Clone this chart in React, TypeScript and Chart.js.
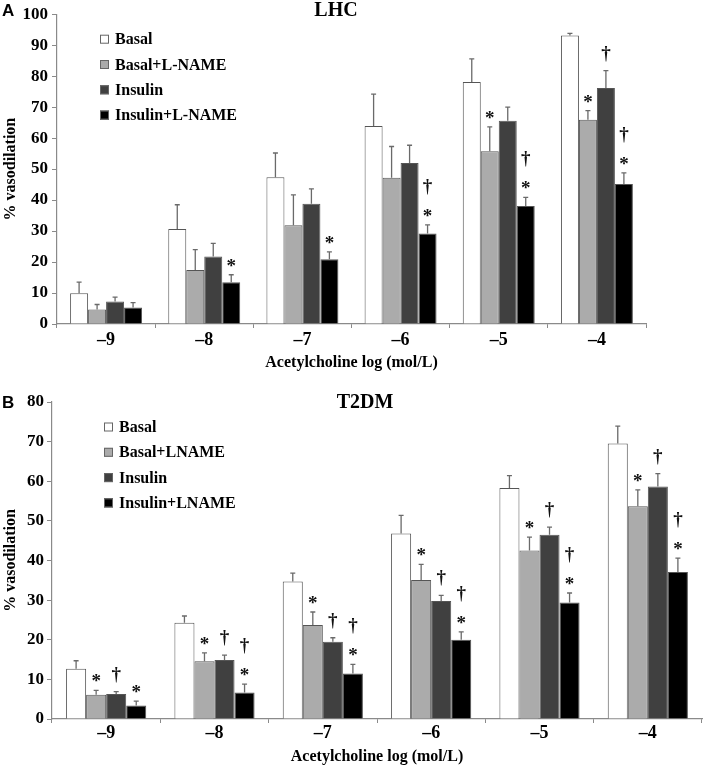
import { useEffect, useRef } from "react";
import { Chart, registerables } from "chart.js";

Chart.register(...registerables);

// ---------- DATA ----------
const categories = ["–9", "–8", "–7", "–6", "–5", "–4"];
const yTicksA = [0, 10, 20, 30, 40, 50, 60, 70, 80, 90, 100];
const yTicksB = [0, 10, 20, 30, 40, 50, 60, 70, 80];

// Panel A (LHC)
const lhcLabels = ["Basal", "Basal+L-NAME", "Insulin", "Insulin+L-NAME"];
const lhcBasal = [9.9, 30.7, 47.4, 63.9, 78.1, 93.1];
const lhcBasalErr = [3.6, 7.8, 7.8, 10.3, 7.5, 0.7];
const lhcBasalLN = [4.7, 17.4, 31.9, 47.2, 55.8, 65.9];
const lhcBasalLNErr = [1.6, 6.6, 9.8, 10.1, 7.8, 3.0];
const lhcInsulin = [7.3, 21.8, 38.8, 52.0, 65.6, 76.2];
const lhcInsulinErr = [1.4, 4.2, 4.8, 5.7, 4.4, 5.6];
const lhcInsulinLN = [5.3, 13.5, 20.9, 29.2, 38.1, 45.2];
const lhcInsulinLNErr = [1.6, 2.4, 2.4, 2.8, 2.8, 3.6];
const lhcBasalMarks = ["", "", "", "", "", ""];
const lhcBasalLNMarks = ["", "", "", "", "*", "*"];
const lhcInsulinMarks = ["", "", "", "", "", "†"];
const lhcInsulinLNMarks = ["", "*", "*", "*†", "*†", "*†"];

// Panel B (T2DM)
const t2Labels = ["Basal", "Basal+LNAME", "Insulin", "Insulin+LNAME"];
const t2Basal = [12.7, 24.3, 34.7, 46.8, 58.3, 69.5];
const t2BasalErr = [2.0, 1.7, 2.1, 4.6, 3.1, 4.4];
const t2BasalLN = [6.1, 14.6, 23.7, 35.1, 42.5, 53.7];
const t2BasalLNErr = [1.1, 2.1, 3.3, 3.9, 3.4, 4.1];
const t2Insulin = [6.3, 14.9, 19.5, 29.8, 46.5, 58.7];
const t2InsulinErr = [0.6, 1.2, 1.0, 1.4, 1.9, 3.2];
const t2InsulinLN = [3.4, 6.7, 11.5, 20.0, 29.4, 37.1];
const t2InsulinLNErr = [1.1, 2.1, 2.3, 2.0, 2.4, 3.5];
const t2BasalMarks = ["", "", "", "", "", ""];
const t2BasalLNMarks = ["*", "*", "*", "*", "*", "*"];
const t2InsulinMarks = ["†", "†", "†", "†", "†", "†"];
const t2InsulinLNMarks = ["*", "*†", "*†", "*†", "*†", "*†"];

// ---------- STYLE ----------
const SERIF = "'Liberation Serif', 'Times New Roman', serif";
const SANS = "'Liberation Sans', Arial, sans-serif";
const fills = ["#ffffff", "#ababab", "#404040", "#000000"];
const barBorder = "#555555";
const axisColor = "#8a8a8a";

const overlayPlugin = {
  id: "overlay",
  afterDatasetsDraw(chart: any) {
    const ctx = chart.ctx;
    const yScale = chart.scales.y;
    chart.data.datasets.forEach((ds: any, di: number) => {
      const meta = chart.getDatasetMeta(di);
      meta.data.forEach((bar: any, i: number) => {
        const v = ds.data[i];
        const e = ds.errors[i];
        const top = yScale.getPixelForValue(v + e);
        ctx.save();
        ctx.strokeStyle = "#6a6a6a";
        ctx.lineWidth = 1.3;
        ctx.beginPath();
        ctx.moveTo(bar.x, bar.y);
        ctx.lineTo(bar.x, top);
        ctx.moveTo(bar.x - 2.5, top);
        ctx.lineTo(bar.x + 2.5, top);
        ctx.stroke();
        const m: string = ds.marks[i] || "";
        ctx.fillStyle = "#111";
        ctx.font = `bold 19px ${SERIF}`;
        ctx.textAlign = "center";
        ctx.textBaseline = "alphabetic";
        if (m.includes("*")) ctx.fillText("*", bar.x, top - 13 + 10);
        if (m.includes("†")) {
          const c = m.includes("*") ? top - 39 : top - 18;
          ctx.fillText("†", bar.x, c + 6);
        }
        ctx.restore();
      });
    });
  },
  afterDraw(chart: any, _args: any, opts: any) {
    const ctx = chart.ctx;
    ctx.save();
    // panel letter
    ctx.fillStyle = "#000";
    ctx.font = `bold 17px ${SANS}`;
    ctx.textAlign = "left";
    ctx.textBaseline = "middle";
    ctx.fillText(opts.panel, 2, opts.panelY);
    // title
    ctx.font = `bold 20px ${SERIF}`;
    ctx.textAlign = "center";
    ctx.fillText(opts.title, opts.titleX, opts.titleY);
    // legend
    const area = chart.chartArea;
    ctx.font = `bold 16px ${SERIF}`;
    ctx.textAlign = "left";
    chart.data.datasets.forEach((ds: any, i: number) => {
      const cy = area.top + opts.legendDY + i * opts.legendGap;
      const sx = area.left + opts.legendDX;
      ctx.fillStyle = ds.backgroundColor;
      ctx.fillRect(sx, cy - 4.5, 9, 9);
      ctx.strokeStyle = "#666";
      ctx.lineWidth = 1;
      ctx.strokeRect(sx + 0.5, cy - 4, 8, 8);
      ctx.fillStyle = "#000";
      ctx.fillText(ds.label, sx + 15, cy + 1);
    });
    ctx.restore();
  },
};

type PanelProps = {
  height: number;
  labels: string[];
  values: number[][];
  errors: number[][];
  marks: string[][];
  yTicks: number[];
  yWidth: number;
  xHeight: number;
  padTop: number;
  padRight: number;
  catPct: number;
  xTickPad: number;
  yTickPad: number;
  overlay: any;
};

function Panel(p: PanelProps) {
  const ref = useRef<HTMLCanvasElement | null>(null);
  useEffect(() => {
    if (!ref.current) return;
    const yMax = p.yTicks[p.yTicks.length - 1];
    const chart = new Chart(ref.current, {
      type: "bar",
      data: {
        labels: categories,
        datasets: p.labels.map((lab, i) => ({
          label: lab,
          data: p.values[i],
          errors: p.errors[i],
          marks: p.marks[i],
          backgroundColor: fills[i],
          borderColor: barBorder,
          borderWidth: 1,
          barPercentage: 1,
          categoryPercentage: p.catPct,
        })) as any,
      },
      options: {
        responsive: false,
        animation: false,
        devicePixelRatio: 1,
        layout: { padding: { top: p.padTop, right: p.padRight, left: 0, bottom: 0 } },
        plugins: {
          legend: { display: false },
          tooltip: { enabled: false },
          title: { display: false },
          overlay: p.overlay,
        } as any,
        scales: {
          x: {
            afterFit: (s: any) => { s.height = p.xHeight; },
            grid: { display: true, drawOnChartArea: false, drawTicks: true, tickLength: 4, color: axisColor, offset: true },
            border: { display: true, color: axisColor, width: 1.2 },
            ticks: { color: "#000", font: { family: SERIF, size: 18, weight: "bold" }, padding: p.xTickPad },
            title: {
              display: true,
              text: "Acetylcholine log (mol/L)",
              color: "#000",
              font: { family: SERIF, size: 16, weight: "bold" },
              padding: { top: 0, bottom: 0 },
            },
          },
          y: {
            min: 0,
            max: yMax,
            afterFit: (s: any) => { s.width = p.yWidth; },
            afterBuildTicks: (s: any) => { s.ticks = p.yTicks.map((v) => ({ value: v })); },
            grid: { display: true, drawOnChartArea: false, drawTicks: true, tickLength: 5, color: axisColor },
            border: { display: true, color: axisColor, width: 1.2 },
            ticks: { color: "#000", font: { family: SERIF, size: 17, weight: "bold" }, padding: p.yTickPad },
            title: {
              display: true,
              text: "% vasodilation",
              color: "#000",
              font: { family: SERIF, size: 16, weight: "bold" },
              padding: { top: 1, bottom: 0 },
            },
          },
        },
      },
      plugins: [overlayPlugin as any],
    });
    return () => chart.destroy();
  }, []);
  return (
    <div style={{ width: 709, height: p.height, position: "relative" }}>
      <canvas ref={ref} width={709} height={p.height} style={{ width: 709, height: p.height, display: "block" }} />
    </div>
  );
}

export default function App() {
  return (
    <div style={{ position: "absolute", left: 0, top: 0, width: 709, height: 766, background: "#fff" }}>
      <Panel
        height={372}
        labels={lhcLabels}
        values={[lhcBasal, lhcBasalLN, lhcInsulin, lhcInsulinLN]}
        errors={[lhcBasalErr, lhcBasalLNErr, lhcInsulinErr, lhcInsulinLNErr]}
        marks={[lhcBasalMarks, lhcBasalLNMarks, lhcInsulinMarks, lhcInsulinLNMarks]}
        yTicks={yTicksA}
        yWidth={57}
        xHeight={48}
        padTop={10}
        padRight={63}
        catPct={0.733}
        xTickPad={2}
        yTickPad={4}
        overlay={{ panel: "A", panelY: 11, title: "LHC", titleX: 336, titleY: 11, legendDX: 43, legendDY: 25, legendGap: 25.3 }}
      />
      <Panel
        height={394}
        labels={t2Labels}
        values={[t2Basal, t2BasalLN, t2Insulin, t2InsulinLN]}
        errors={[t2BasalErr, t2BasalLNErr, t2InsulinErr, t2InsulinLNErr]}
        marks={[t2BasalMarks, t2BasalLNMarks, t2InsulinMarks, t2InsulinLNMarks]}
        yTicks={yTicksB}
        yWidth={52}
        xHeight={47}
        padTop={30}
        padRight={7}
        catPct={0.74}
        xTickPad={0}
        yTickPad={3}
        overlay={{ panel: "B", panelY: 31, title: "T2DM", titleX: 365, titleY: 31, legendDX: 52, legendDY: 25, legendGap: 25.3 }}
      />
    </div>
  );
}
